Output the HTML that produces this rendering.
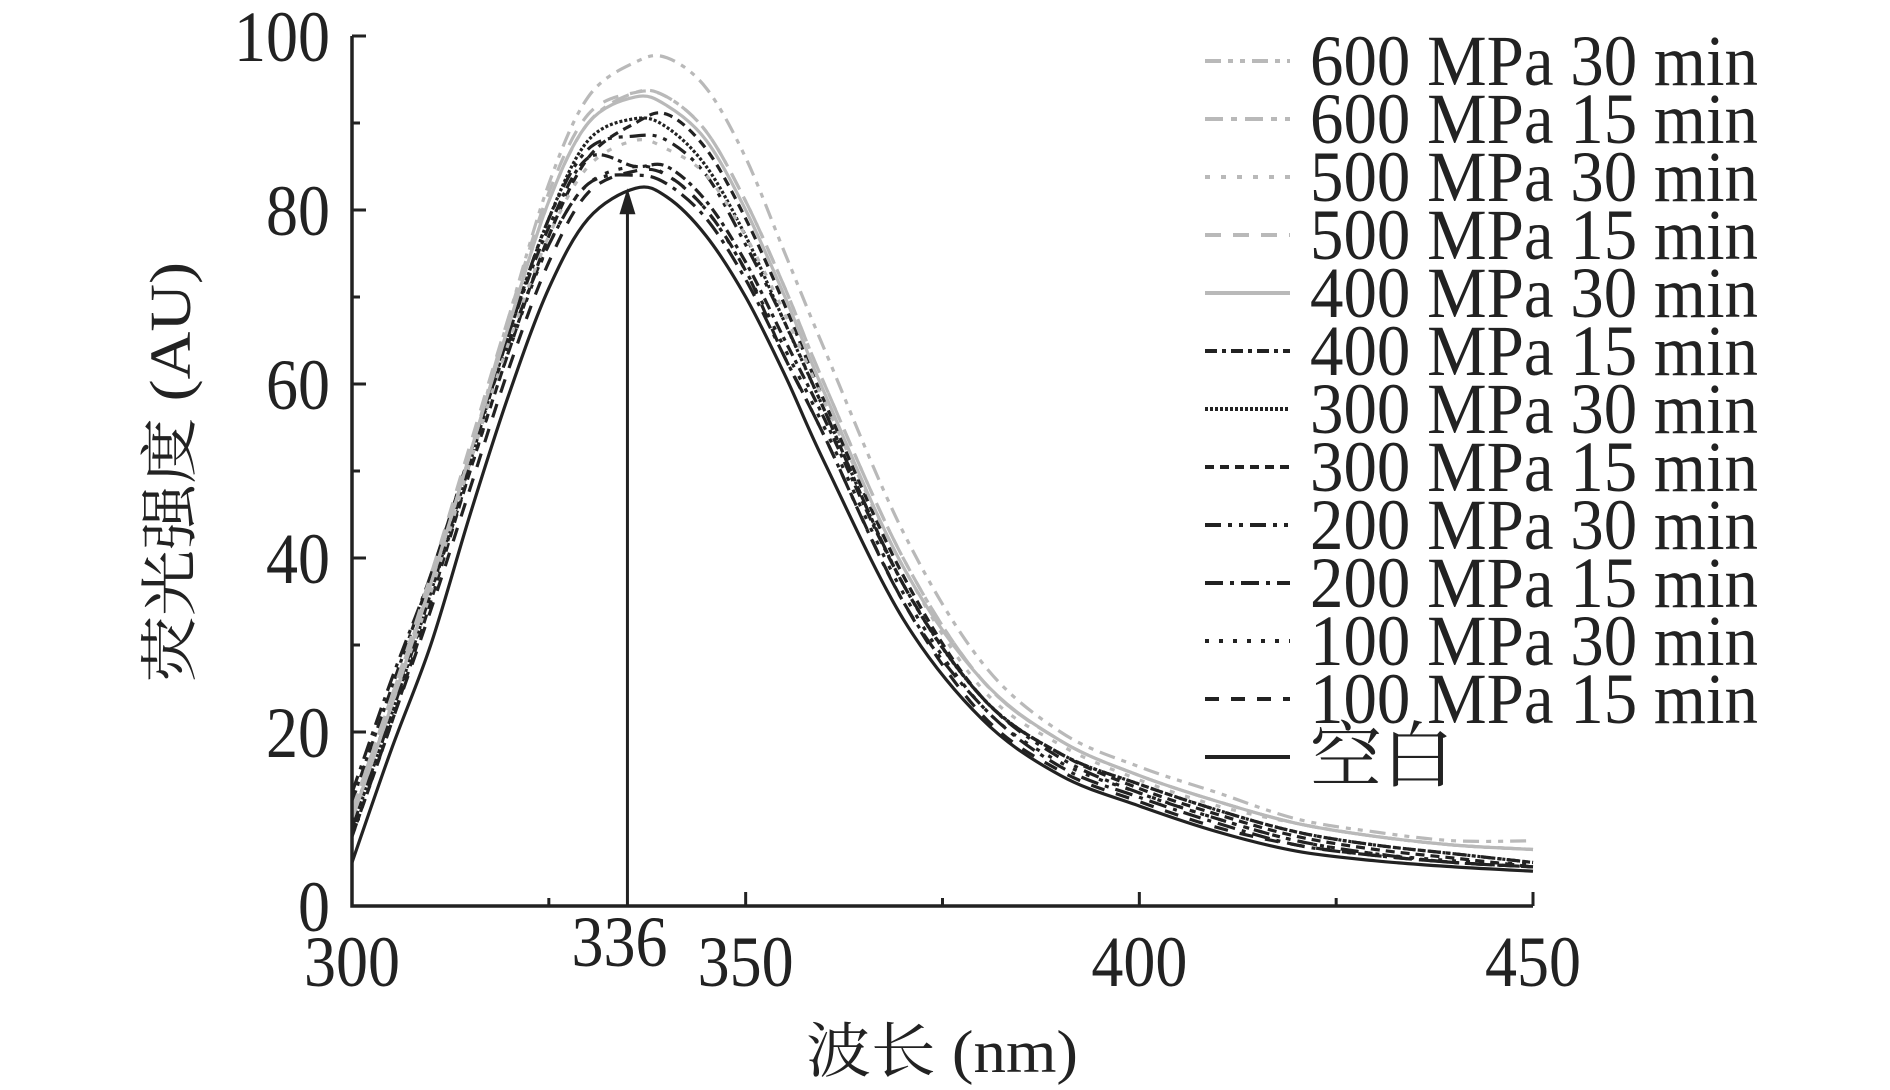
<!DOCTYPE html>
<html><head><meta charset="utf-8"><style>
html,body{margin:0;padding:0;background:#fff;}
svg{display:block;}
text{font-family:"Liberation Serif","Noto Serif CJK SC","Noto Sans CJK SC",serif;fill:#222;}
</style></head><body>
<svg id="chart" width="1890" height="1090" viewBox="0 0 1890 1090" xmlns="http://www.w3.org/2000/svg">
<g id="series"></g>
<g id="axes"></g>
<g id="legend"></g>
<text transform="translate(190,472) rotate(-90)" text-anchor="middle" font-size="58" textLength="420" lengthAdjust="spacingAndGlyphs">荧光强度 (AU)</text>
<text x="942" y="1072" text-anchor="middle" font-size="60" textLength="272" lengthAdjust="spacingAndGlyphs">波长 (nm)</text>
</svg>
<script>
const wavelengths=[300,305,310,315,320,325,330,336,340,345,350,355,360,370,380,390,400,410,420,430,440,450];
const seriesNames=["600 MPa 30 min","600 MPa 15 min","500 MPa 30 min","500 MPa 15 min","400 MPa 30 min","400 MPa 15 min","300 MPa 30 min","300 MPa 15 min","200 MPa 30 min","200 MPa 15 min","100 MPa 30 min","100 MPa 15 min","空白"];
const s600_30=[10,23,37,52,68,83,93,97,97.5,94,86,75,64,43,28,20,16,13,10,8.5,7.5,7.5];
const s600_15=[11,24,37,52,67,81,90,93.5,93,89,81,71,60,40,26,19,15,12,9.5,8,7,6.5];
const s500_30=[10,23,36,51,65,77,85,88,87,84,77,68,58,39,25,18.5,14.5,11.5,9.5,8,7,6.5];
const s500_15=[11,24,38,53,68,82,91,93.5,93,89,81,71,60,40,26,19,15,12,9.5,8,7,6.5];
const s400_30=[10,23,37,52,67,81,90,93,92,88,80,70,59,39,26,19,15,12,9.5,8,7,6.5];
const s400_15=[12,25,38,52,66,78,86,85,85,81,74,65,56,37,24,17.5,14,11,8.5,7,6,5];
const s300_30=[9,22,36,51,66,79,88,90.5,89.5,85,77,67,57,37,24,17.5,14,11,8.5,7,6,5];
const s300_15=[8,21,35,50,64,77,86,90,91,87,79,69,58,38,24,17.5,13.5,10.5,8,6.5,5.5,4.5];
const s200_30=[9,22,36,51,66,79,87,88.5,88,84,76,67,57,37,24,17,13,10,7.5,6,5,4.5];
const s200_15=[13,26,38,52,65,76,83,84,83,79,72,63,54,35,23,16,12.5,9.5,7,5.8,5,4.5];
const s100_30=[10,23,36,50,64,76,83,85,84,80,73,64,55,36,23,16.5,13,10,7.5,6,5.2,4.8];
const s100_15=[8,21,34,48,62,74,82,84.5,84,80,73,63,54,35,22,15.5,12,9,7,5.8,5,4.5];
const sBlank=[5,18,30,45,59,71,79,82.5,81.5,77,70,61,51,33,21.5,15,11.5,8.5,6.3,5.2,4.5,4];
const seriesValues=[s600_30,s600_15,s500_30,s500_15,s400_30,s400_15,s300_30,s300_15,s200_30,s200_15,s100_30,s100_15,sBlank];
const xTicks=[300,350,400,450];
const xMinor=[325,375,425];
const yTicks=[0,20,40,60,80,100];
const yMinor=[10,30,50,70,90];
const peakX=336, peakY=82.5;

const G="#b9b9b9", K="#222";
const styles=[[G,"16 7 5 7 5 7"],[G,"18 8 6 8"],[G,"5 11"],[G,"16 12"],[G,""],[K,"12 5 4 5"],[K,"3 2"],[K,"9 6"],[K,"16 7 4 7 4 7"],[K,"18 7 4 7"],[K,"4 10"],[K,"14 12"],[K,""]];
const X0=352,X1=1533,Y0=906,Y1=36;
const sx=v=>X0+(v-300)/150*(X1-X0);
const sy=v=>Y0-v/100*(Y0-Y1);
const NS="http://www.w3.org/2000/svg";
function mk(tag,attrs,parent){const e=document.createElementNS(NS,tag);for(const k in attrs)e.setAttribute(k,attrs[k]);parent.appendChild(e);return e;}
function pathFor(vals){
  const p=wavelengths.map((w,i)=>[sx(w),sy(vals[i])]);
  let d="M"+p[0][0].toFixed(1)+","+p[0][1].toFixed(1);
  for(let i=0;i<p.length-1;i++){
    const a=p[Math.max(0,i-1)],b=p[i],c=p[i+1],e=p[Math.min(p.length-1,i+2)];
    const c1=[b[0]+(c[0]-a[0])/6,b[1]+(c[1]-a[1])/6],c2=[c[0]-(e[0]-b[0])/6,c[1]-(e[1]-b[1])/6];
    d+="C"+c1[0].toFixed(1)+","+c1[1].toFixed(1)+" "+c2[0].toFixed(1)+","+c2[1].toFixed(1)+" "+c[0].toFixed(1)+","+c[1].toFixed(1);
  }
  return d;
}
const gs=document.getElementById('series');
for(let i=seriesValues.length-1;i>=0;i--){
  const el=mk('path',{d:pathFor(seriesValues[i]),fill:"none",stroke:styles[i][0],"stroke-width":3.2,"stroke-dasharray":styles[i][1]},gs);
  
  
}
const ga=document.getElementById('axes');
const AX=sx(peakX)-8;
const ar=mk('line',{x1:AX,y1:Y0,x2:AX,y2:sy(peakY)+22,stroke:K,"stroke-width":3},ga);


const ah=mk('polygon',{points:`${AX},${sy(peakY)} ${AX-8},${sy(peakY)+26} ${AX+8},${sy(peakY)+26}`,fill:K},ga);


const ax=mk('path',{d:`M${X0},${Y1} L${X0},${Y0} L${X1},${Y0}`,fill:"none",stroke:K,"stroke-width":3.5},ga);


xTicks.forEach(v=>{
  const t=mk('line',{x1:sx(v),y1:Y0,x2:sx(v),y2:Y0-14,stroke:K,"stroke-width":3},ga);
  
  
  const l=mk('text',{x:sx(v),y:Y0+80,"text-anchor":"middle","font-size":72,textLength:96,lengthAdjust:"spacingAndGlyphs"},ga);
  l.textContent=v;
  
  
});
xMinor.forEach(v=>{
  const t=mk('line',{x1:sx(v),y1:Y0,x2:sx(v),y2:Y0-8,stroke:K,"stroke-width":3},ga);
  
  
});
const pl=mk('text',{x:AX-8,y:Y0+60,"text-anchor":"middle","font-size":72,textLength:96,lengthAdjust:"spacingAndGlyphs"},ga);
pl.textContent=peakX;


yTicks.forEach(v=>{
  const t=mk('line',{x1:X0,y1:sy(v),x2:X0+14,y2:sy(v),stroke:K,"stroke-width":3},ga);
  
  
  const s=String(v);
  const l=mk('text',{x:330,y:sy(v)+25,"text-anchor":"end","font-size":72,textLength:32*s.length,lengthAdjust:"spacingAndGlyphs"},ga);
  l.textContent=s;
  
  
});
yMinor.forEach(v=>{
  const t=mk('line',{x1:X0,y1:sy(v),x2:X0+8,y2:sy(v),stroke:K,"stroke-width":3},ga);
  
  
});
const gl=document.getElementById('legend');
seriesNames.forEach((n,i)=>{
  const y=61+i*58;
  const ln=mk('line',{x1:1205,y1:y,x2:1290,y2:y,stroke:styles[i][0],"stroke-width":4,"stroke-dasharray":styles[i][1]},gl);
  
  
  const attrs={x:1310,y:y+24,"font-size":72};
  if(i<12){attrs.textLength=448;attrs.lengthAdjust="spacingAndGlyphs";}
  const t=mk('text',attrs,gl);
  t.textContent=n;
  
  
});
</script>
</body></html>
